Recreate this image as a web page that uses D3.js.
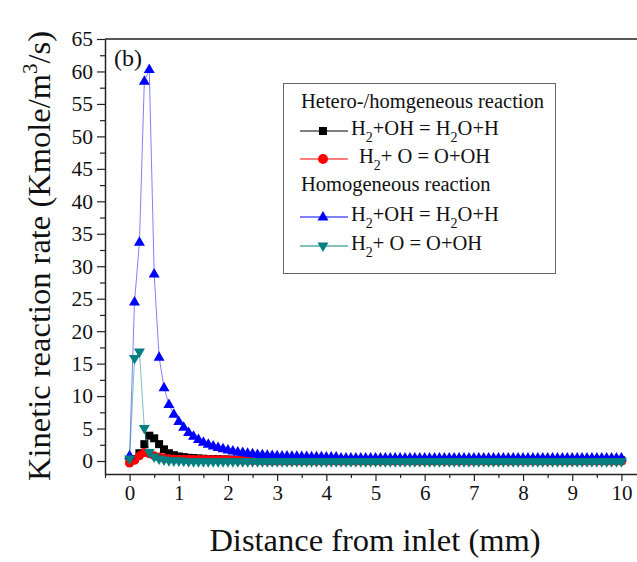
<!DOCTYPE html>
<html>
<head>
<meta charset="utf-8">
<script src="https://cdn.jsdelivr.net/npm/d3@7"></script>
<style>
  body { margin: 0; background: #fff; }
  svg { display: block; }
  text { font-family: "Liberation Serif", "Times New Roman", serif; fill: #111; }
</style>
</head>
<body>
<div id="chart"></div>
<script>
// distance from inlet (mm)
var distance = [0,0.1,0.2,0.3,0.4,0.5,0.6,0.7,0.8,0.9,
  1,1.1,1.2,1.3,1.4,1.5,1.6,1.7,1.8,1.9,
  2,2.1,2.2,2.3,2.4,2.5,2.6,2.7,2.8,2.9,
  3,3.1,3.2,3.3,3.4,3.5,3.6,3.7,3.8,3.9,
  4,4.1,4.2,4.3,4.4,4.5,4.6,4.7,4.8,4.9,
  5,5.1,5.2,5.3,5.4,5.5,5.6,5.7,5.8,5.9,
  6,6.1,6.2,6.3,6.4,6.5,6.6,6.7,6.8,6.9,
  7,7.1,7.2,7.3,7.4,7.5,7.6,7.7,7.8,7.9,
  8,8.1,8.2,8.3,8.4,8.5,8.6,8.7,8.8,8.9,
  9,9.1,9.2,9.3,9.4,9.5,9.6,9.7,9.8,9.9,10];

// hetero-/homogeneous  H2+OH = H2O+H
var heteroOH = [0.0,0.3,1.2,2.6,3.9,3.5,2.6,1.8,1.2,0.9,
  0.7,0.6,0.5,0.45,0.4,0.35,0.3,0.28,0.26,0.24,
  0.22,0.2,0.19,0.18,0.17,0.16,0.15,0.14,0.13,0.12,
  0.1,0.1,0.1,0.1,0.1,0.1,0.1,0.1,0.1,0.1,
  0.1,0.1,0.1,0.1,0.1,0.1,0.1,0.1,0.1,0.1,
  0.1,0.1,0.1,0.1,0.1,0.1,0.1,0.1,0.1,0.1,
  0.1,0.1,0.1,0.1,0.1,0.1,0.1,0.1,0.1,0.1,
  0.1,0.1,0.1,0.1,0.1,0.1,0.1,0.1,0.1,0.1,
  0.1,0.1,0.1,0.1,0.1,0.1,0.1,0.1,0.1,0.1,
  0.1,0.1,0.1,0.1,0.1,0.1,0.1,0.1,0.1,0.1,0.1];

// hetero-/homogeneous  H2+O = O+OH
var heteroO = [-0.3,0.1,0.8,1.3,1.1,0.8,0.6,0.45,0.35,0.3,
  0.28,0.27,0.26,0.25,0.24,0.23,0.22,0.21,0.2,0.2,
  0.18,0.15,0.12,0.1,0.08,0.06,0.04,0.02,0.0,0.0,
  0.0,0.0,0.0,0.0,0.0,0.0,0.0,0.0,0.0,0.0,
  0.0,0.0,0.0,0.0,0.0,0.0,0.0,0.0,0.0,0.0,
  0.0,0.0,0.0,0.0,0.0,0.0,0.0,0.0,0.0,0.0,
  0.0,0.0,0.0,0.0,0.0,0.0,0.0,0.0,0.0,0.0,
  0.0,0.0,0.0,0.0,0.0,0.0,0.0,0.0,0.0,0.0,
  0.0,0.0,0.0,0.0,0.0,0.0,0.0,0.0,0.0,0.0,
  0.0,0.0,0.0,0.0,0.0,0.0,0.0,0.0,0.0,0.0,0.0];

// homogeneous  H2+OH = H2O+H
var homoOH = [0.8,24.5,33.7,58.5,60.3,28.8,16.0,11.3,8.7,7.2,
  6.1,5.2,4.4,3.8,3.3,2.9,2.6,2.3,2.1,1.9,
  1.7,1.55,1.4,1.3,1.2,1.1,1.0,0.95,0.9,0.85,
  0.8,0.78,0.76,0.74,0.72,0.7,0.68,0.66,0.65,0.64,
  0.63,0.62,0.6,0.45,0.45,0.45,0.45,0.45,0.45,0.45,
  0.45,0.45,0.45,0.45,0.45,0.45,0.45,0.45,0.45,0.45,
  0.45,0.45,0.45,0.45,0.45,0.45,0.45,0.45,0.45,0.45,
  0.45,0.45,0.45,0.45,0.45,0.45,0.45,0.45,0.45,0.45,
  0.45,0.45,0.45,0.45,0.45,0.45,0.45,0.45,0.45,0.45,
  0.45,0.45,0.45,0.45,0.45,0.45,0.45,0.45,0.45,0.45,0.45];

// homogeneous  H2+O = O+OH
var homoO = [0.3,15.8,16.8,5.0,1.3,0.6,0.3,0.15,0.05,0.0,
  0.0,-0.05,-0.1,-0.1,-0.1,-0.1,-0.1,-0.1,-0.1,-0.1,
  -0.1,-0.1,-0.1,-0.1,-0.1,-0.1,-0.1,-0.1,-0.1,-0.1,
  -0.1,-0.1,-0.1,-0.1,-0.1,-0.1,-0.1,-0.1,-0.1,-0.1,
  -0.1,-0.1,-0.1,-0.1,-0.1,-0.1,-0.1,-0.1,-0.1,-0.1,
  -0.1,-0.1,-0.1,-0.1,-0.1,-0.1,-0.1,-0.1,-0.1,-0.1,
  -0.1,-0.1,-0.1,-0.1,-0.1,-0.1,-0.1,-0.1,-0.1,-0.1,
  -0.1,-0.1,-0.1,-0.1,-0.1,-0.1,-0.1,-0.1,-0.1,-0.1,
  -0.1,-0.1,-0.1,-0.1,-0.1,-0.1,-0.1,-0.1,-0.1,-0.1,
  -0.1,-0.1,-0.1,-0.1,-0.1,-0.1,-0.1,-0.1,-0.1,-0.1,-0.1];

var xTicks = [0,1,2,3,4,5,6,7,8,9,10];
var yTicks = [0,5,10,15,20,25,30,35,40,45,50,55,60,65];

var W = 637, H = 562;
var plotL = 105, plotT = 39, plotR = 646, plotB = 474;

var svg = d3.select("#chart").append("svg")
    .attr("width", W)
    .attr("height", H);

var x = d3.scaleLinear().domain([-0.5, 10.5]).range([plotL, plotR]);
var y = d3.scaleLinear().domain([-2, 65]).range([plotB, plotT]);

// frame (top + right)
svg.append("path")
    .attr("d", "M" + plotL + "," + plotT + "H" + plotR + "V" + plotB)
    .attr("fill", "none")
    .attr("stroke", "#222")
    .attr("stroke-width", 1.5);

// x axis
var xAxis = svg.append("g")
    .attr("transform", "translate(0," + plotB + ")")
    .call(d3.axisBottom(x).tickValues(xTicks).tickSize(7).tickSizeOuter(0).tickPadding(4).tickFormat(d3.format("d")));
svg.append("g")
    .attr("transform", "translate(0," + plotB + ")")
    .call(d3.axisBottom(x).tickValues(xTicks.slice(0, -1).map(function(d) { return d + 0.5; }).concat([-0.5]))
      .tickSize(4).tickSizeOuter(0).tickFormat(""))
    .select(".domain").remove();

// y axis
var yAxis = svg.append("g")
    .attr("transform", "translate(" + plotL + ",0)")
    .call(d3.axisLeft(y).tickValues(yTicks).tickSize(8).tickSizeOuter(0).tickPadding(4));
svg.append("g")
    .attr("transform", "translate(" + plotL + ",0)")
    .call(d3.axisLeft(y).tickValues(yTicks.slice(0, -1).map(function(d) { return d + 2.5; }))
      .tickSize(5).tickSizeOuter(0).tickFormat(""))
    .select(".domain").remove();

svg.selectAll(".domain").attr("stroke", "#222").attr("stroke-width", 1.5);
svg.selectAll(".tick line").attr("stroke", "#222").attr("stroke-width", 1.2);
xAxis.selectAll(".tick text")
    .attr("font-family", "Liberation Serif, serif")
    .attr("font-size", 21)
    .attr("fill", "#111");
yAxis.selectAll(".tick text")
    .attr("font-family", "Liberation Serif, serif")
    .attr("font-size", 21.5)
    .attr("fill", "#111");

// axis titles
svg.append("text")
    .attr("x", 375)
    .attr("y", 551)
    .attr("text-anchor", "middle")
    .attr("font-size", 32.5)
    .text("Distance from inlet (mm)");

var yt = svg.append("text")
    .attr("transform", "translate(50,256) rotate(-90)")
    .attr("text-anchor", "middle")
    .attr("font-size", 32.5);
yt.append("tspan").text("Kinetic reaction rate (Kmole/m");
yt.append("tspan").attr("dy", -13).attr("font-size", 21).text("3");
yt.append("tspan").attr("dy", 13).text("/s)");

svg.append("text")
    .attr("x", 114)
    .attr("y", 66)
    .attr("font-size", 24)
    .text("(b)");

// marker shapes
function markerPath(kind) {
  if (kind === "square") return "M-4,-4H4V4H-4Z";
  if (kind === "up") return "M0,-6L5.5,3.5L-5.5,3.5Z";
  if (kind === "down") return "M0,6L5.5,-3.5L-5.5,-3.5Z";
  return null;
}

var series = [
  { name: "heteroOH", values: heteroOH, color: "#000000", kind: "square" },
  { name: "heteroO",  values: heteroO,  color: "#ff0000", kind: "circle" },
  { name: "homoOH",   values: homoOH,   color: "#0000ff", kind: "up" },
  { name: "homoO",    values: homoO,    color: "#008080", kind: "down" }
];

var line = d3.line()
    .x(function(d) { return x(d[0]); })
    .y(function(d) { return y(d[1]); });

var plot = svg.append("g");

series.forEach(function(s) {
  var pts = distance.map(function(d, i) { return [d, s.values[i]]; });
  plot.append("path")
      .datum(pts)
      .attr("d", line)
      .attr("fill", "none")
      .attr("stroke", s.color)
      .attr("stroke-opacity", 0.5)
      .attr("stroke-width", 1);
  var g = plot.append("g");
  if (s.kind === "circle") {
    g.selectAll("circle").data(pts).enter().append("circle")
        .attr("cx", function(d) { return x(d[0]); })
        .attr("cy", function(d) { return y(d[1]); })
        .attr("r", 4.5)
        .attr("fill", s.color);
  } else {
    g.selectAll("path").data(pts).enter().append("path")
        .attr("transform", function(d) { return "translate(" + x(d[0]) + "," + y(d[1]) + ")"; })
        .attr("d", markerPath(s.kind))
        .attr("fill", s.color);
  }
});

// legend
var lg = svg.append("g");
lg.append("rect")
    .attr("x", 283.5).attr("y", 83.5)
    .attr("width", 272).attr("height", 190)
    .attr("fill", "#fff")
    .attr("stroke", "#666")
    .attr("stroke-width", 1);

lg.append("text").attr("x", 301).attr("y", 108).attr("font-size", 20.5).text("Hetero-/homgeneous reaction");
lg.append("text").attr("x", 301).attr("y", 191).attr("font-size", 20.5).text("Homogeneous reaction");

var rows = [
  { s: series[0], y: 131, tx: 351, parts: [["H", 0], ["2", 1], ["+OH = H", 0], ["2", 1], ["O+H", 0]] },
  { s: series[1], y: 159, tx: 359, parts: [["H", 0], ["2", 1], ["+ O = O+OH", 0]] },
  { s: series[2], y: 217, tx: 351, parts: [["H", 0], ["2", 1], ["+OH = H", 0], ["2", 1], ["O+H", 0]] },
  { s: series[3], y: 246, tx: 351, parts: [["H", 0], ["2", 1], ["+ O = O+OH", 0]] }
];

rows.forEach(function(r) {
  lg.append("line")
      .attr("x1", 300).attr("x2", 348)
      .attr("y1", r.y).attr("y2", r.y)
      .attr("stroke", r.s.color).attr("stroke-width", 1);
  if (r.s.kind === "circle") {
    lg.append("circle").attr("cx", 323).attr("cy", r.y).attr("r", 5).attr("fill", r.s.color);
  } else {
    lg.append("path")
        .attr("transform", "translate(323," + r.y + ")")
        .attr("d", markerPath(r.s.kind))
        .attr("fill", r.s.color);
  }
  var t = lg.append("text").attr("x", r.tx).attr("y", r.y + 4).attr("font-size", 20.5);
  var sub = false;
  r.parts.forEach(function(p) {
    var ts = t.append("tspan").text(p[0]);
    if (p[1] && !sub) { ts.attr("dy", 7).attr("font-size", 14); sub = true; }
    else if (!p[1] && sub) { ts.attr("dy", -7); sub = false; }
  });
});
</script>
</body>
</html>
